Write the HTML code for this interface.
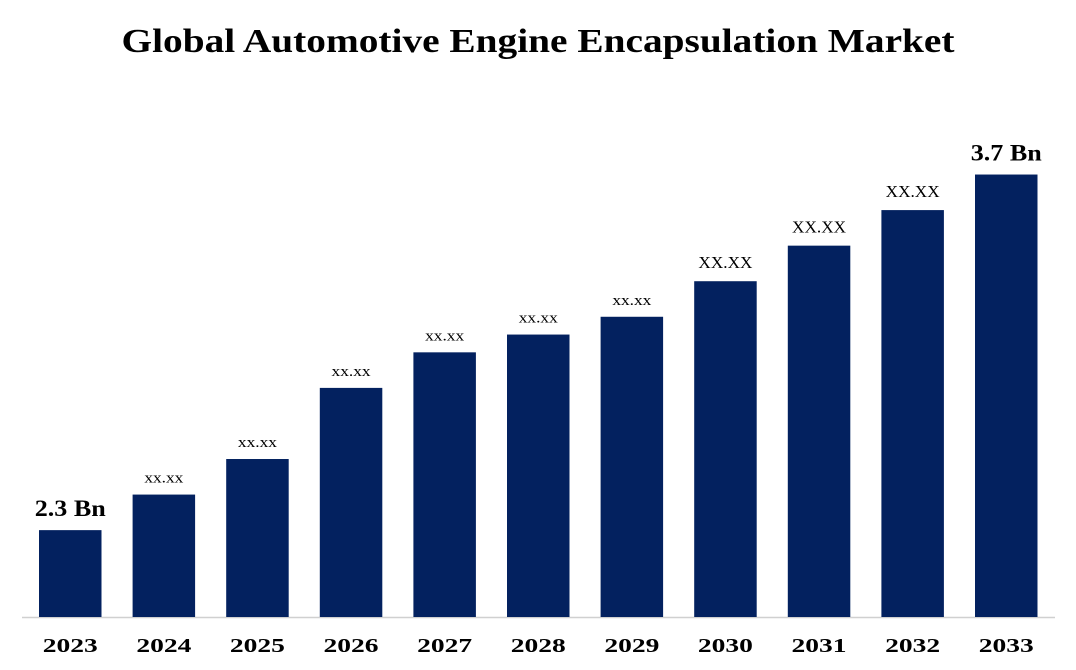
<!DOCTYPE html>
<html><head><meta charset="utf-8"><style>
body{margin:0;background:#fff;}
svg{display:block;font-family:"Liberation Serif",serif;}
</style></head><body>
<svg id="chart" width="1076" height="670">
<text x="538" y="52" text-anchor="middle" font-size="34" font-weight="bold" fill="#000" textLength="833" lengthAdjust="spacingAndGlyphs">Global Automotive Engine Encapsulation Market</text>
<line x1="22" y1="617.5" x2="1055" y2="617.5" stroke="#d0d0d0" stroke-width="1.5"/>
<g id="bars"></g>
</svg>
<script>
const categories=["2023","2024","2025","2026","2027","2028","2029","2030","2031","2032","2033"];
const values=[2.3,2.44,2.58,2.86,3.0,3.07,3.14,3.28,3.42,3.56,3.7];
const labels=["2.3 Bn","xx.xx","xx.xx","xx.xx","xx.xx","xx.xx","xx.xx","XX.XX","XX.XX","XX.XX","3.7 Bn"];
const base=617,vmin=1.958,k=254,x0=39,step=93.6,bw=62.5;
const y=v=>base-(v-vmin)*k;
const ns="http://www.w3.org/2000/svg",g=document.getElementById('bars');
categories.forEach((c,i)=>{
 const x=x0+i*step,top=y(values[i]);
 const r=document.createElementNS(ns,'rect');
 r.setAttribute('x',x);r.setAttribute('y',top);r.setAttribute('width',bw);r.setAttribute('height',base-top);r.setAttribute('fill','#03215f');
 
 
 g.appendChild(r);
 const t=document.createElementNS(ns,'text');
 const big=labels[i].includes('Bn'),caps=labels[i]==="XX.XX";
 t.setAttribute('x',x+bw/2);t.setAttribute('y',top-(big?14:(caps?13:12)));t.setAttribute('text-anchor','middle');
 t.setAttribute('font-size',big?23:(caps?17:15));if(big)t.setAttribute('font-weight','bold');
 t.setAttribute('textLength',big?71:(caps?54:39));
 t.setAttribute('lengthAdjust','spacingAndGlyphs');
 t.textContent=labels[i];
 
 
 g.appendChild(t);
 const l=document.createElementNS(ns,'text');
 l.setAttribute('x',x+bw/2);l.setAttribute('y',652);l.setAttribute('text-anchor','middle');l.setAttribute('font-size',20);l.setAttribute('font-weight','bold');
 l.setAttribute('textLength',55);
 l.setAttribute('lengthAdjust','spacingAndGlyphs');
 l.textContent=c;
 
 
 g.appendChild(l);
});
</script>
</body></html>
